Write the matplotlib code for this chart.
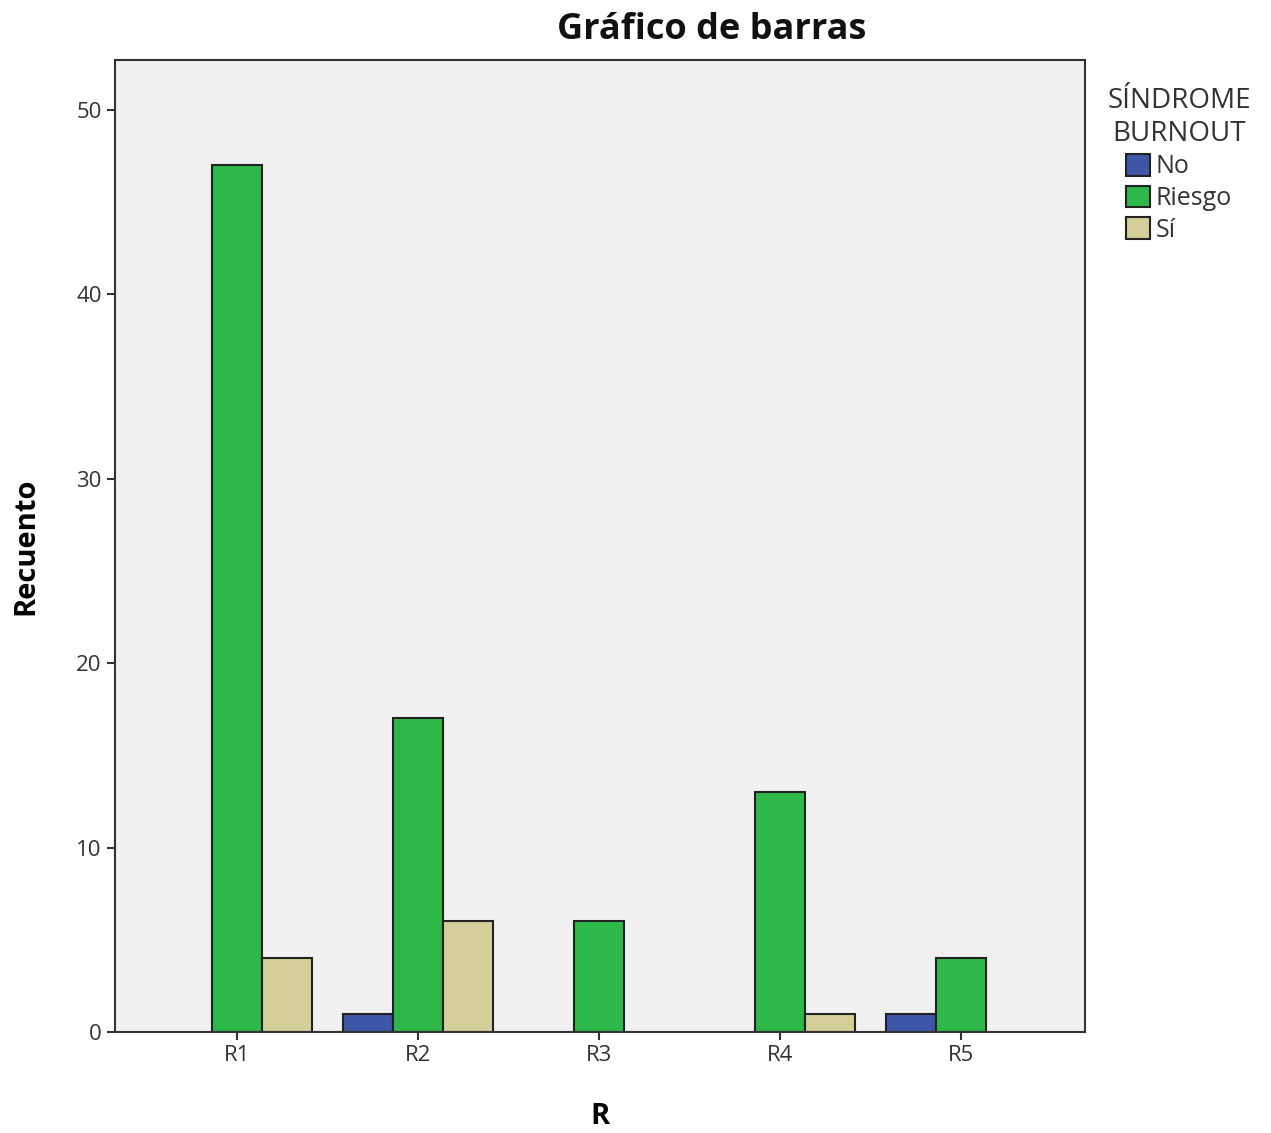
import numpy as np
import matplotlib.pyplot as plt
from matplotlib.patches import Patch

plt.rcParams['font.family'] = ['Open Sans', 'DejaVu Sans']

categorias = ['R1', 'R2', 'R3', 'R4', 'R5']
series = ['No', 'Riesgo', 'Sí']
no = [0, 1, 0, 0, 1]
riesgo = [47, 17, 6, 13, 4]
si = [4, 6, 0, 1, 0]
colores = ['#3d56a8', '#2db84a', '#d4cf98']

fig = plt.figure(figsize=(12.71, 11.33), dpi=100)
ax = fig.add_axes([115/1271, 1-1032/1133, 970/1271, 972/1133])
ax.set_facecolor('#f0f0f0')

x = np.arange(len(categorias))
w = 0.276
for i, (vals, c) in enumerate(zip([no, riesgo, si], colores)):
    v = np.array(vals, dtype=float)
    m = v > 0
    ax.bar(x[m] + (i-1)*w, v[m], width=w, color=c, edgecolor='#222222', linewidth=1.5)

ax.set_xlim(-0.674, 4.685)
ax.set_ylim(0, 52.7)
ax.set_xticks(x)
ax.set_xticklabels(categorias)
ax.set_yticks([0, 10, 20, 30, 40, 50])
ax.tick_params(axis='both', labelsize=16, colors='#333333', length=6, width=1.5)
for s in ax.spines.values():
    s.set_color('#333333')
    s.set_linewidth(1.5)

ax.set_xlabel('R', fontsize=21, fontweight='bold', labelpad=26)
ax.set_ylabel('Recuento', fontsize=21, fontweight='bold', labelpad=26)

fig.text(712/1271, 1-30/1133, 'Gráfico de barras', ha='center', va='center',
         fontsize=26, fontweight='bold', color='#111111')

handles = [Patch(facecolor=c, edgecolor='#222222', linewidth=1.5) for c in colores]
leg = fig.legend(handles, series, title='SÍNDROME\nBURNOUT', loc='upper center',
                 bbox_to_anchor=(1179/1271, 1-70/1133), frameon=False, fontsize=18,
                 title_fontsize=20, handlelength=0.95, handleheight=0.95,
                 handletextpad=0.25, labelspacing=0.25, borderpad=0.2,
                 alignment='center')
leg.get_title().set_color('#333333')
leg.get_title().set_multialignment('center')
for t in leg.get_texts():
    t.set_color('#333333')

fig.savefig('out.png', dpi=100, facecolor='white')
